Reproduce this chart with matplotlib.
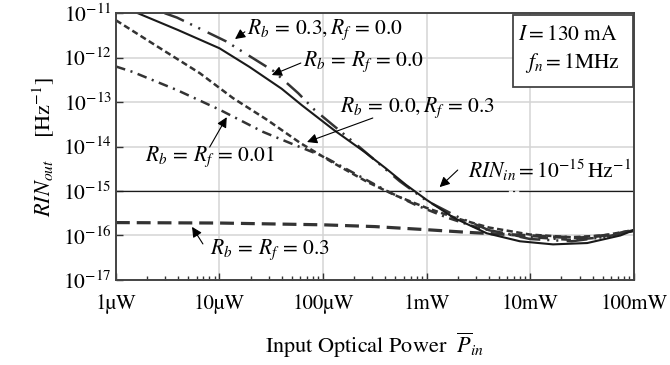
import numpy as np
import matplotlib
matplotlib.use("Agg")
import matplotlib.pyplot as plt
from matplotlib.patches import Rectangle

plt.rcParams['font.family'] = ['STIXGeneral', 'DejaVu Sans']
plt.rcParams['mathtext.fontset'] = 'stix'
plt.rcParams['lines.scale_dashes'] = False

# values, as log10(P / W) and log10(RIN / Hz^-1)
solid_lx = [-5.79, -5.4, -5.0, -4.71, -4.4, -4.2, -3.9, -3.6, -3.4, -3.2, -3.0, -2.74, -2.42, -2.1, -1.78, -1.45, -1.13, -1.0]
solid_ly = [-11.0, -11.38, -11.79, -12.21, -12.7, -13.08, -13.62, -14.12, -14.48, -14.86, -15.2, -15.6, -15.95, -16.13, -16.2, -16.17, -16.0, -15.88]

ddot_lx = [-5.53, -5.41, -4.94, -4.48, -4.24, -4.08, -3.67, -3.26, -3.0, -2.7, -2.4, -2.0, -1.6, -1.3, -1.0]
ddot_ly = [-11.0, -11.10, -11.63, -12.30, -12.80, -13.18, -13.97, -14.78, -15.22, -15.58, -15.88, -16.08, -16.13, -16.04, -15.88]

dash_lx = [-6.0, -5.6, -5.19, -4.87, -4.54, -4.22, -3.9, -3.57, -3.3, -3.0, -2.7, -2.4, -2.0, -1.6, -1.3, -1.0]
dash_ly = [-11.16, -11.75, -12.35, -12.91, -13.40, -13.92, -14.37, -14.80, -15.1, -15.38, -15.62, -15.82, -15.98, -16.04, -16.0, -15.88]

dashdot_lx = [-6.0, -5.84, -5.41, -5.0, -4.58, -4.32, -4.0, -3.7, -3.4, -3.1, -2.8, -2.5, -2.1, -1.6, -1.3, -1.0]
dashdot_ly = [-12.2, -12.32, -12.73, -13.17, -13.67, -13.92, -14.22, -14.6, -14.98, -15.32, -15.6, -15.83, -16.02, -16.1, -16.04, -15.9]

flat_lx = [-6.0, -5.0, -4.0, -3.5, -3.0, -2.6, -2.2, -1.8, -1.5, -1.2, -1.0]
flat_ly = [-15.71, -15.72, -15.76, -15.8, -15.87, -15.93, -15.98, -16.03, -16.05, -15.98, -15.88]

rin_in = 1e-15

xticks = [1e-6, 1e-5, 1e-4, 1e-3, 1e-2, 1e-1]
xticklabels = ['1\u00b5W', '10\u00b5W', '100\u00b5W', '1mW', '10mW', '100mW']

fig = plt.figure(figsize=(6.7, 3.65), dpi=100)
ax = fig.add_axes([0.173, 0.233, 0.773, 0.731])
ax.set_xscale('log')
ax.set_yscale('log')
ax.set_xlim(1e-6, 1e-1)
ax.set_ylim(1e-17, 1e-11)

c = '#1a1a1a'
ax.axhline(rin_in, color=c, lw=0.9, dashes=(215, 3, 1.5, 3, 60, 3, 1.5, 3), zorder=2)
ax.plot(10 ** np.array(flat_lx), 10 ** np.array(flat_ly), color='#333333', lw=2.3, dashes=(10, 5))
ax.plot(10 ** np.array(dashdot_lx), 10 ** np.array(dashdot_ly), color='#333333', lw=1.8, dashes=(7, 4, 1.5, 4))
ax.plot(10 ** np.array(dash_lx), 10 ** np.array(dash_ly), color='#333333', lw=1.8, dashes=(4.5, 2.5))
ax.plot(10 ** np.array(ddot_lx), 10 ** np.array(ddot_ly), color='#333333', lw=1.8,
        dashes=(15, 5, 1.5, 5, 1.5, 6))
ax.plot(10 ** np.array(solid_lx), 10 ** np.array(solid_ly), color=c, lw=1.5)

ax.set_xticks(xticks)
ax.set_xticklabels(xticklabels)
ax.set_yticks([10.0 ** k for k in range(-17, -10)])
ax.grid(True, which='major', color='#d4d4d4', lw=1.1)
ax.set_axisbelow(True)
ax.tick_params(which='both', direction='in', color='#333333')
ax.tick_params(which='major', length=5, width=1.0)
ax.tick_params(axis='x', which='major', labelsize=15, pad=10)
ax.tick_params(axis='y', which='major', labelsize=15.5, pad=3)
ax.tick_params(which='minor', length=3, width=1.0)
for s in ax.spines.values():
    s.set_color('#444444')
    s.set_linewidth(1.4)

ax.set_ylabel('$RIN_{out}$    [Hz$^{-1}$]', fontsize=16, labelpad=4)
ax.set_xlabel('Input Optical Power  $\\overline{P}_{in}$', fontsize=16, labelpad=12)

arrow = dict(arrowstyle='-|>', color='k', lw=0.8, mutation_scale=15, shrinkA=0, shrinkB=0)
fs = 15.5
ax.annotate('', xy=(0.230, 0.903), xytext=(0.249, 0.930), xycoords='axes fraction', arrowprops=arrow)
ax.text(0.253, 0.936, '$R_b\\,=\\,0.3, R_f\\,=\\,0.0$', transform=ax.transAxes, fontsize=fs, va='center')
ax.annotate('', xy=(0.301, 0.768), xytext=(0.357, 0.813), xycoords='axes fraction', arrowprops=arrow)
ax.text(0.361, 0.816, '$R_b\\,=\\,R_f\\,=\\,0.0$', transform=ax.transAxes, fontsize=fs, va='center')
ax.annotate('', xy=(0.369, 0.517), xytext=(0.496, 0.607), xycoords='axes fraction', arrowprops=arrow)
ax.text(0.432, 0.644, '$R_b\\,=\\,0.0, R_f\\,=\\,0.3$', transform=ax.transAxes, fontsize=fs, va='center')
ax.annotate('', xy=(0.214, 0.610), xytext=(0.181, 0.498), xycoords='axes fraction', arrowprops=arrow)
ax.text(0.056, 0.461, '$R_b\\,=\\,R_f\\,=\\,0.01$', transform=ax.transAxes, fontsize=fs, va='center')
ax.annotate('', xy=(0.147, 0.199), xytext=(0.168, 0.135), xycoords='axes fraction', arrowprops=arrow)
ax.text(0.181, 0.112, '$R_b\\,=\\,R_f\\,=\\,0.3$', transform=ax.transAxes, fontsize=fs, va='center')
ax.annotate('', xy=(0.625, 0.348), xytext=(0.660, 0.412), xycoords='axes fraction', arrowprops=arrow)
ax.text(0.680, 0.412, '$RIN_{in} = 10^{-15}\\,\\mathrm{Hz}^{-1}$', transform=ax.transAxes, fontsize=fs, va='center')

ax.add_patch(Rectangle((0.766, 0.723), 0.232, 0.270, transform=ax.transAxes,
                       facecolor='white', edgecolor='#444444', lw=1.3, zorder=5))
ax.text(0.873, 0.918, '$I = 130$ mA', transform=ax.transAxes, fontsize=fs, ha='center', va='center', zorder=6)
ax.text(0.882, 0.813, '$f_n = 1$MHz', transform=ax.transAxes, fontsize=fs, ha='center', va='center', zorder=6)

fig.savefig('out.png', dpi=100)
